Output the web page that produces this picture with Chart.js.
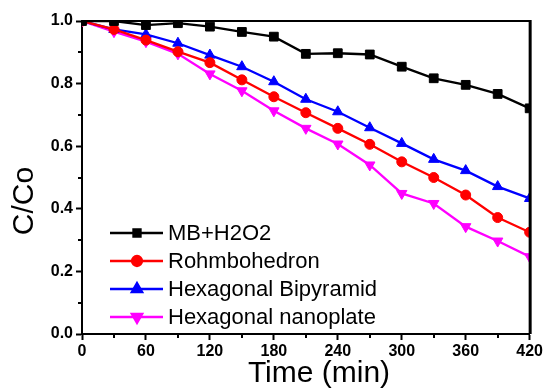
<!DOCTYPE html>
<html>
<head>
<meta charset="utf-8">
<script src="https://cdn.jsdelivr.net/npm/chart.js@4"></script>
<style>
  html, body { margin: 0; padding: 0; background: #fff; }
  #wrap { width: 545px; height: 389px; }
</style>
</head>
<body>
<div id="wrap"><canvas id="chart"></canvas></div>
<script>
// time in minutes
const times = [0, 30, 60, 90, 120, 150, 180, 210, 240, 270, 300, 330, 360, 390, 420];

// C/Co values
const mbH2o2 = [1.0, 1.0, 0.987, 0.993, 0.982, 0.965, 0.95, 0.895, 0.897, 0.893, 0.854, 0.817, 0.796, 0.767, 0.721];
const rhombohedron = [1.0, 0.973, 0.939, 0.902, 0.867, 0.812, 0.758, 0.707, 0.657, 0.606, 0.55, 0.5, 0.444, 0.372, 0.325];
const bipyramid = [1.0, 0.973, 0.957, 0.929, 0.891, 0.854, 0.806, 0.75, 0.71, 0.659, 0.609, 0.558, 0.522, 0.471, 0.433];
const nanoplate = [1.0, 0.966, 0.934, 0.895, 0.831, 0.777, 0.713, 0.657, 0.607, 0.54, 0.449, 0.417, 0.343, 0.297, 0.247];

const seriesNames = ['MB+H2O2', 'Rohmbohedron', 'Hexagonal Bipyramid', 'Hexagonal nanoplate'];

const xTicks = [0, 60, 120, 180, 240, 300, 360, 420];
const yTicks = [0.0, 0.2, 0.4, 0.6, 0.8, 1.0];

const FONT = "'Liberation Sans', Arial, sans-serif";

function toPoints(vals) {
    return times.map((t, i) => ({ x: t, y: vals[i] }));
}

function makeSet(label, vals, color, style, radius, rotation) {
    return {
        label: label,
        data: toPoints(vals),
        borderColor: color,
        backgroundColor: color,
        borderWidth: 2.3,
        pointStyle: style,
        pointRadius: radius,
        pointRotation: rotation || 0,
        pointBorderWidth: 1,
        pointBorderColor: color,
        pointBackgroundColor: color,
        tension: 0
    };
}

function isMajorX(v) { return xTicks.includes(v); }
function isMajorY(v) { return yTicks.some(t => Math.abs(t - v) < 1e-6); }

// frame, minor ticks, axis titles and the legend inside the plot
const extras = {
    id: 'extras',
    afterDraw(chart) {
        const ctx = chart.ctx;
        const a = chart.chartArea;
        const xs = chart.scales.x;
        const ys = chart.scales.y;
        ctx.save();

        // minor ticks (shorter than the major ones)
        ctx.strokeStyle = '#000';
        ctx.lineWidth = 2;
        ctx.beginPath();
        xs.ticks.forEach(t => {
            if (isMajorX(t.value)) return;
            const px = Math.round(xs.getPixelForValue(t.value));
            ctx.moveTo(px, a.bottom);
            ctx.lineTo(px, a.bottom + 4);
        });
        ys.ticks.forEach(t => {
            if (isMajorY(t.value)) return;
            const py = Math.round(ys.getPixelForValue(t.value));
            ctx.moveTo(a.left, py);
            ctx.lineTo(a.left - 4, py);
        });
        ctx.stroke();

        // top and right border of the box
        ctx.beginPath();
        ctx.moveTo(a.left, a.top);
        ctx.lineTo(a.right, a.top);
        ctx.stroke();
        ctx.lineWidth = 3;
        ctx.beginPath();
        ctx.moveTo(a.right + 0.5, a.top - 1);
        ctx.lineTo(a.right + 0.5, a.bottom);
        ctx.stroke();

        // axis titles
        ctx.fillStyle = '#000';
        ctx.font = '30px ' + FONT;
        ctx.textAlign = 'center';
        ctx.textBaseline = 'alphabetic';
        ctx.fillText('Time (min)', 319, 382);

        ctx.translate(33, 201);
        ctx.rotate(-Math.PI / 2);
        ctx.fillText('C/Co', 0, 0);
        ctx.restore();

        // legend
        ctx.save();
        ctx.font = '22px ' + FONT;
        ctx.textAlign = 'left';
        ctx.textBaseline = 'middle';
        const rowY = [233, 261, 289, 317];
        chart.data.datasets.forEach((ds, i) => {
            const y = rowY[i];
            ctx.strokeStyle = ds.borderColor;
            ctx.lineWidth = 2.3;
            ctx.beginPath();
            ctx.moveTo(110, y);
            ctx.lineTo(163, y);
            ctx.stroke();
            ctx.fillStyle = ds.borderColor;
            Chart.helpers.drawPoint(ctx, {
                pointStyle: ds.pointStyle,
                radius: ds.pointStyle === 'rect' ? 5 : ds.pointRadius,
                rotation: ds.pointRotation,
                borderWidth: 1
            }, 137, y);
            ctx.fillStyle = '#000';
            ctx.fillText(ds.label, 168, y + 1);
        });
        ctx.restore();
    }
};

const ctx = document.getElementById('chart').getContext('2d');
const myChart = new Chart(ctx, {
    type: 'line',
    data: {
        datasets: [
            makeSet(seriesNames[0], mbH2o2, '#000000', 'rect', 6.2),
            makeSet(seriesNames[1], rhombohedron, '#ff0000', 'circle', 5),
            makeSet(seriesNames[2], bipyramid, '#0000ff', 'triangle', 6),
            makeSet(seriesNames[3], nanoplate, '#ff00ff', 'triangle', 6, 180)
        ]
    },
    options: {
        responsive: true,
        maintainAspectRatio: false,
        animation: false,
        layout: { padding: { left: 0, right: 14, top: 21, bottom: 0 } },
        scales: {
            x: {
                type: 'linear',
                min: 0,
                max: 420,
                afterFit: s => { s.height = 55; },
                afterBuildTicks: s => {
                    s.ticks = times.map(v => ({ value: v }));
                },
                grid: {
                    drawOnChartArea: false,
                    drawTicks: true,
                    tickLength: 6,
                    tickWidth: 2,
                    tickColor: c => isMajorX(c.tick.value) ? '#000' : 'rgba(0,0,0,0)'
                },
                border: { display: true, color: '#000', width: 2 },
                ticks: {
                    autoSkip: false,
                    maxRotation: 0,
                    padding: 2,
                    color: '#000',
                    font: { family: FONT, size: 16, weight: 'bold' },
                    callback: v => isMajorX(v) ? String(v) : ''
                }
            },
            y: {
                min: 0,
                max: 1,
                afterFit: s => { s.width = 82; },
                afterBuildTicks: s => {
                    const list = [];
                    for (let i = 0; i <= 10; i++) list.push({ value: i / 10 });
                    s.ticks = list;
                },
                grid: {
                    drawOnChartArea: false,
                    drawTicks: true,
                    tickLength: 6,
                    tickWidth: 2,
                    tickColor: c => isMajorY(c.tick.value) ? '#000' : 'rgba(0,0,0,0)'
                },
                border: { display: true, color: '#000', width: 2 },
                ticks: {
                    autoSkip: false,
                    padding: 3,
                    color: '#000',
                    font: { family: FONT, size: 16, weight: 'bold' },
                    callback: v => isMajorY(v) ? v.toFixed(1) : ''
                }
            }
        },
        plugins: {
            legend: { display: false },
            tooltip: { enabled: false }
        }
    },
    plugins: [extras]
});
</script>
</body>
</html>
